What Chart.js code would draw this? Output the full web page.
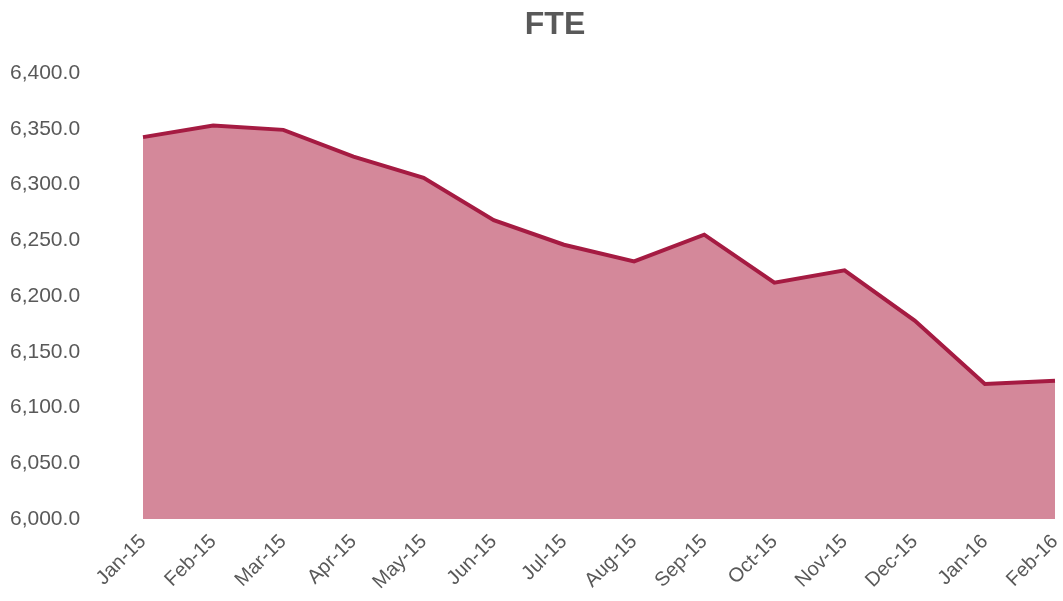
<!DOCTYPE html>
<html lang="en">
<head>
    <meta charset="UTF-8">
    <title>FTE</title>
    <script src="https://cdn.jsdelivr.net/npm/chart.js"></script>
    <style>
        body {
            margin: 0;
            background: #ffffff;
            font-family: "Liberation Sans", Arial, sans-serif;
        }
        .wrap {
            position: relative;
            width: 1063px;
            height: 601px;
        }
        .title {
            position: absolute;
            top: 5px;
            left: 455px;
            width: 200px;
            text-align: center;
            font-size: 32px;
            line-height: 36px;
            font-weight: bold;
            color: #595959;
        }
    </style>
</head>
<body>

    <div class="wrap">
        <canvas id="fte-chart" width="1063" height="601"></canvas>
        <div class="title">FTE</div>
    </div>

    <script>
        const months = ["Jan-15", "Feb-15", "Mar-15", "Apr-15", "May-15", "Jun-15", "Jul-15",
                        "Aug-15", "Sep-15", "Oct-15", "Nov-15", "Dec-15", "Jan-16", "Feb-16"];
        const fte = [6342.5, 6353, 6349, 6325, 6306, 6268, 6246,
                     6231, 6255, 6212, 6223, 6178, 6121, 6124];
        const yMin = 6000;
        const yMax = 6400;
        const yStep = 50;

        const textColor = '#595959';

        const ctx = document.getElementById('fte-chart').getContext('2d');
        new Chart(ctx, {
            type: 'line',
            data: {
                labels: months,
                datasets: [{
                    label: "FTE",
                    data: fte,
                    borderColor: '#A51B42',
                    backgroundColor: '#D4889A',
                    borderWidth: 4,
                    pointRadius: 0,
                    tension: 0,
                    fill: 'start'
                }]
            },
            options: {
                responsive: false,
                animation: false,
                layout: {
                    padding: { top: 73, left: 10, right: 8, bottom: 0 }
                },
                plugins: {
                    legend: { display: false },
                    tooltip: { enabled: false },
                    title: { display: false }
                },
                scales: {
                    x: {
                        grid: { display: false },
                        border: { display: false },
                        ticks: {
                            color: textColor,
                            font: { family: "'Liberation Sans', Arial, sans-serif", size: 20 },
                            minRotation: 45,
                            maxRotation: 45,
                            padding: 3,
                            autoSkip: false
                        },
                        afterFit: (scale) => {
                            scale.height = 82;
                            scale.paddingRight = 0;
                        }
                    },
                    y: {
                        min: yMin,
                        max: yMax,
                        grid: { display: false },
                        border: { display: false },
                        ticks: {
                            stepSize: yStep,
                            color: textColor,
                            crossAlign: 'far',
                            font: { family: "'Liberation Sans', Arial, sans-serif", size: 21 },
                            callback: (v) => v.toLocaleString('en-US', { minimumFractionDigits: 1, maximumFractionDigits: 1 })
                        },
                        afterFit: (scale) => { scale.width = 133; }
                    }
                }
            }
        });
    </script>

</body>
</html>
